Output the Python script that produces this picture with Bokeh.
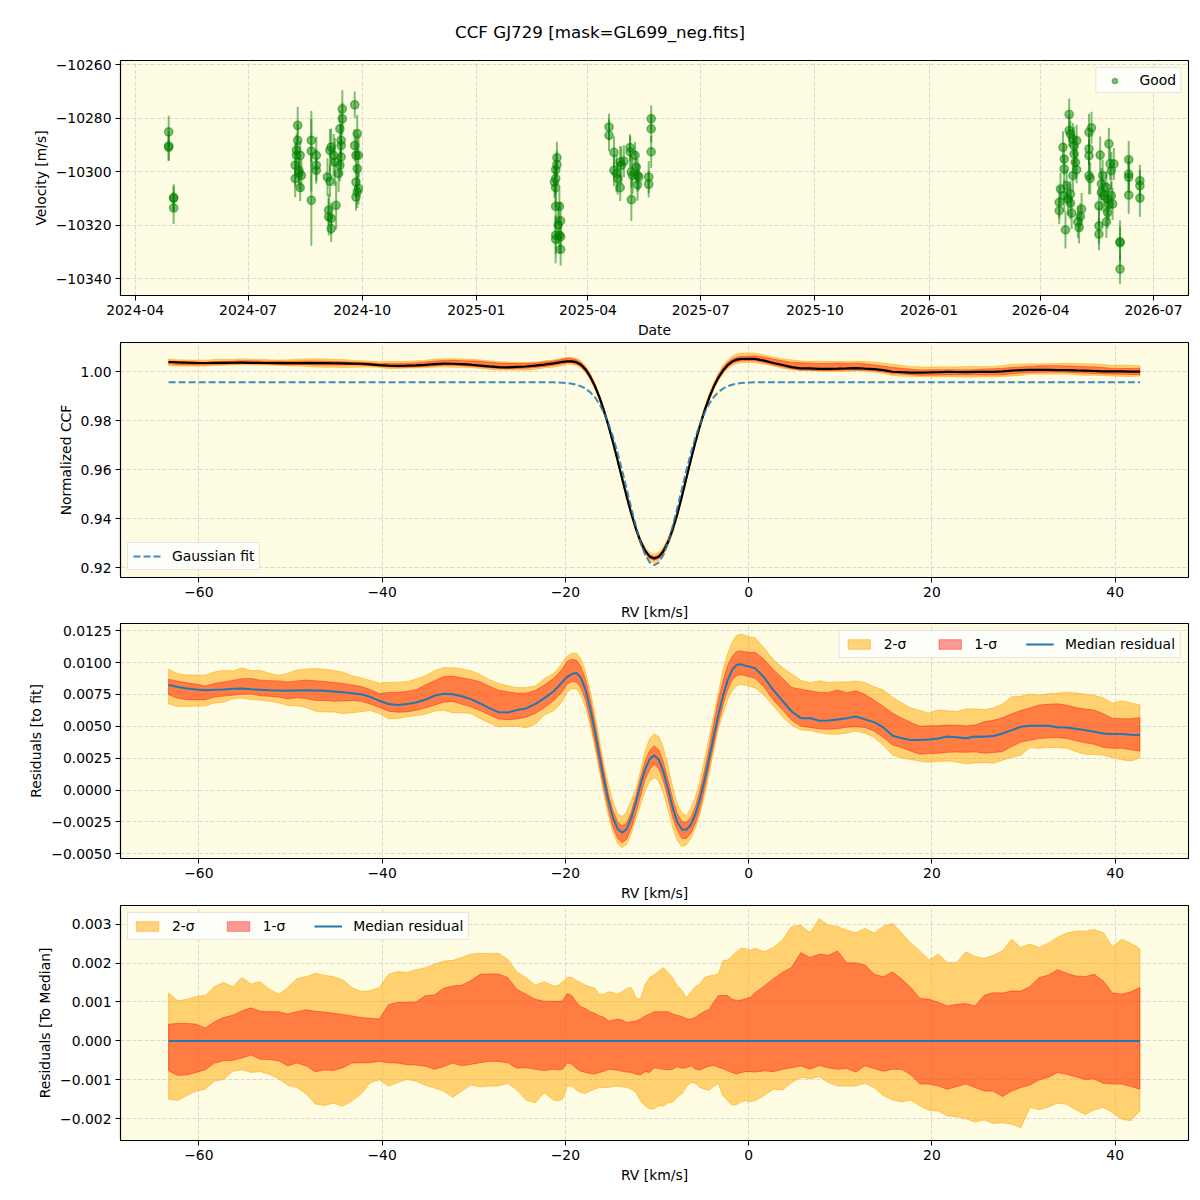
import numpy as np
import pandas as pd
from bokeh.plotting import figure
from bokeh.models import Range1d, FixedTicker, CustomJSTickFormatter, Div, ColumnDataSource
from bokeh.layouts import column
from bokeh.embed import file_html
from bokeh.resources import INLINE

# ---------------- RV time series ("Good" observations) ----------------
obs_date = [
    "2024-04-28", "2024-04-28", "2024-04-28", "2024-05-02", "2024-05-02", "2024-05-02",
    "2024-08-08", "2024-08-08", "2024-08-09", "2024-08-09", "2024-08-10", "2024-08-10",
    "2024-08-11", "2024-08-11", "2024-08-12", "2024-08-12", "2024-08-13",
    "2024-08-21", "2024-08-21", "2024-08-21", "2024-08-25", "2024-08-25", "2024-08-25",
    "2024-09-03", "2024-09-04", "2024-09-04", "2024-09-05", "2024-09-05", "2024-09-06",
    "2024-09-06", "2024-09-06", "2024-09-08", "2024-09-09", "2024-09-10",
    "2024-09-12", "2024-09-13", "2024-09-13", "2024-09-14", "2024-09-14", "2024-09-14",
    "2024-09-15", "2024-09-15",
    "2024-09-25", "2024-09-25", "2024-09-26", "2024-09-26", "2024-09-26", "2024-09-27",
    "2024-09-27", "2024-09-27", "2024-09-28", "2024-09-28",
    "2025-03-05", "2025-03-06", "2025-03-06", "2025-03-06", "2025-03-06", "2025-03-06",
    "2025-03-06", "2025-03-07", "2025-03-07", "2025-03-08", "2025-03-09", "2025-03-09",
    "2025-03-10", "2025-03-10", "2025-03-10",
    "2025-04-18", "2025-04-18", "2025-04-22", "2025-04-22", "2025-04-24", "2025-04-25",
    "2025-04-27", "2025-04-27", "2025-04-28", "2025-04-30", "2025-05-05", "2025-05-05",
    "2025-05-06", "2025-05-06", "2025-05-07", "2025-05-09", "2025-05-10", "2025-05-11",
    "2025-05-11", "2025-05-12", "2025-05-20", "2025-05-20", "2025-05-22", "2025-05-22",
    "2025-05-22",
    "2026-04-24", "2026-04-24", "2026-04-25", "2026-04-19", "2026-04-20", "2026-04-20",
    "2026-04-27", "2026-04-28", "2026-04-28", "2026-04-29", "2026-04-30", "2026-04-30",
    "2026-04-27", "2026-04-17", "2026-04-16", "2026-04-16", "2026-04-20", "2026-04-22",
    "2026-04-23", "2026-04-25", "2026-04-25", "2026-04-26", "2026-04-21", "2026-05-01",
    "2026-05-02", "2026-05-04", "2026-05-03", "2026-05-10", "2026-05-12", "2026-05-10",
    "2026-05-10", "2026-05-10", "2026-05-11", "2026-05-19", "2026-05-26", "2026-05-27",
    "2026-05-30", "2026-05-28", "2026-05-21", "2026-05-20", "2026-05-20", "2026-05-22",
    "2026-05-24", "2026-05-25", "2026-05-26", "2026-05-28", "2026-05-29", "2026-05-18",
    "2026-05-18", "2026-05-18", "2026-05-25", "2026-05-24", "2026-06-04", "2026-06-04",
    "2026-06-04", "2026-06-11", "2026-06-11", "2026-06-11", "2026-06-11", "2026-06-20",
    "2026-06-20", "2026-06-20",
]
obs_rv = [
    -10285.1, -10290.4, -10290.9, -10309.7, -10310.0, -10313.6,
    -10297.6, -10302.6, -10292.0, -10293.9, -10282.7, -10288.3,
    -10299.5, -10300.7, -10293.9, -10306.0, -10301.4,
    -10288.3, -10292.3, -10310.7, -10293.9, -10297.6, -10299.5,
    -10302.0, -10314.4, -10316.9, -10292.0, -10303.6, -10317.5,
    -10321.3, -10290.8, -10293.9, -10296.4, -10312.6,
    -10300.7, -10297.6, -10284.0, -10290.2, -10288.3, -10294.5,
    -10276.5, -10280.2,
    -10275.0, -10290.2, -10293.9, -10309.5, -10303.9, -10285.8,
    -10307.6, -10298.9, -10293.9, -10306.3,
    -10303.9, -10299.3, -10306.0, -10313.0, -10325.3, -10302.6,
    -10323.8, -10294.8, -10297.4, -10320.0, -10313.0, -10323.8,
    -10318.4, -10324.4, -10329.1,
    -10283.3, -10286.4, -10292.8, -10299.5, -10300.7, -10302.6,
    -10296.4, -10306.0, -10297.6, -10296.1, -10291.0, -10292.6,
    -10300.1, -10310.5, -10301.4, -10293.9, -10298.3, -10301.4,
    -10304.9, -10302.0, -10304.7, -10302.0, -10280.2, -10284.0,
    -10292.6,
    -10278.6, -10284.6, -10285.9, -10290.9, -10295.3, -10299.0,
    -10287.8, -10290.3, -10293.4, -10296.5, -10299.3, -10288.4,
    -10301.5, -10306.5, -10311.5, -10314.6, -10309.0, -10305.3,
    -10310.3, -10308.4, -10311.8, -10315.5, -10321.8, -10318.8,
    -10320.9, -10314.0, -10316.8, -10285.3, -10283.6, -10291.5,
    -10294.0, -10301.5, -10302.5, -10293.8, -10289.6, -10297.1,
    -10297.1, -10299.6, -10301.5, -10304.6, -10307.8, -10309.0,
    -10305.9, -10310.3, -10312.1, -10309.0, -10312.1, -10312.8,
    -10320.3, -10323.4, -10315.3, -10318.8, -10326.3, -10326.6,
    -10336.5, -10295.5, -10300.9, -10302.1, -10308.8, -10303.4,
    -10305.3, -10309.9,
]
obs_err = [
    6.0, 5.5, 5.0, 5.0, 4.5, 6.0,
    8.0, 7.0, 6.0, 5.0, 7.0, 6.0,
    5.0, 6.0, 5.5, 5.0, 6.0,
    8.0, 15.0, 17.0, 7.0, 6.0, 5.0,
    7.0, 6.0, 7.0, 8.0, 6.0, 6.0,
    5.0, 7.0, 8.0, 9.0, 9.0,
    7.0, 6.0, 7.0, 8.0, 6.0, 7.0,
    7.0, 6.0,
    5.0, 6.0, 7.0, 5.0, 6.0, 7.0,
    6.0, 8.0, 8.0, 6.0,
    6.0, 6.0, 7.0, 8.0, 9.0, 6.0,
    7.0, 6.0, 5.0, 7.0, 6.0, 7.0,
    7.0, 6.0, 6.0,
    5.0, 6.0, 6.0, 6.0, 7.0, 6.0,
    6.0, 5.0, 7.0, 6.0, 5.0, 6.0,
    6.0, 8.0, 7.0, 5.0, 6.0, 6.0,
    6.0, 5.0, 5.0, 6.0, 5.0, 5.0,
    6.0,
    6.0, 6.0, 5.0, 6.0, 6.0, 5.0,
    6.0, 7.0, 6.0, 6.0, 5.0, 6.0,
    6.0, 6.0, 6.0, 5.0, 6.0, 6.0,
    6.0, 5.0, 6.0, 6.0, 7.0, 6.0,
    6.0, 6.0, 5.0, 7.0, 6.0, 6.0,
    6.0, 7.0, 6.0, 7.0, 6.0, 6.0,
    6.0, 7.0, 6.0, 6.0, 7.0, 6.0,
    6.0, 6.0, 6.0, 5.0, 6.0, 7.0,
    7.0, 6.0, 6.0, 6.0, 8.0, 6.0,
    5.5, 7.0, 6.0, 6.0, 7.0, 6.0,
    6.0, 7.0,
]

# ---------------- CCF profile: RV grid (finer through the line core) ----------------
rv = np.concatenate([
    -63.3 + np.arange(42),          # -63.3 ... -22.3
    -21.3 + 0.5 * np.arange(44),    # -21.3 ... 0.2
    0.7 + np.arange(43),            # 0.7 ... 42.7
])

# median residual (CCF - fit), units of 1e-3
resid_median_e3 = [
    8.25, 8.09, 7.96, 7.88, 7.83, 7.86, 7.88, 7.94, 7.96, 7.90, 7.86, 7.83, 7.81, 7.78,
    7.81, 7.83, 7.81, 7.78, 7.73, 7.68, 7.60, 7.52, 7.31, 7.00, 6.74, 6.68, 6.74, 6.87,
    7.08, 7.39, 7.55, 7.52, 7.36, 7.13, 6.79, 6.42, 6.11, 6.08, 6.27, 6.40, 6.74, 7.21,
    7.73, 8.10, 8.50, 8.88, 9.10, 9.19, 8.80, 7.85, 6.42, 4.66, 2.76, 0.87, -0.82, -2.18,
    -3.05, -3.35, -3.05, -2.18, -0.95, 0.40, 1.61, 2.42, 2.72, 2.38, 1.44, 0.08, -1.36, -2.50,
    -3.08, -3.12, -2.72, -1.88, -0.66, 0.84, 2.53, 4.25, 5.92, 7.39, 8.60, 9.43, 9.83, 9.86,
    9.74, 9.66,
    9.56, 8.83, 7.83, 7.00, 6.16, 5.64, 5.64, 5.43, 5.46, 5.54, 5.64, 5.77, 5.54, 5.33,
    4.91, 4.26, 4.07, 3.92, 3.92, 3.97, 4.05, 4.20, 4.15, 4.07, 4.20, 4.18, 4.23, 4.44,
    4.70, 4.96, 5.04, 5.04, 5.04, 4.93, 4.91, 4.80, 4.70, 4.57, 4.44, 4.39, 4.39, 4.33, 4.31,
]
# percentile envelopes relative to the median residual, units of 1e-3
band_hi2_e3 = [
    1.23, 1.03, 1.07, 1.14, 1.17, 1.40, 1.50, 1.39, 1.63, 1.46, 1.52, 1.33, 1.20, 1.37,
    1.60, 1.65, 1.73, 1.69, 1.65, 1.57, 1.37, 1.27, 1.29, 1.37, 1.71, 1.78, 1.76, 1.83,
    1.88, 1.97, 2.05, 2.07, 2.14, 2.23, 2.25, 2.24, 2.25, 2.10, 1.77, 1.63, 1.43, 1.52,
    1.41, 1.43, 1.52, 1.63, 1.63, 1.55, 1.50, 1.43, 1.39, 1.36, 1.20, 1.20, 1.26, 1.24,
    1.20, 1.26, 1.35, 1.37, 1.11, 1.07, 1.45, 1.63, 1.70, 1.80, 1.88, 1.76, 1.63, 1.41,
    1.31, 1.11, 1.26, 1.39, 1.47, 1.63, 1.67, 1.69, 1.73, 2.06, 2.08, 2.19, 2.29, 2.38,
    2.37, 2.33,
    2.38, 2.29, 2.40, 2.60, 2.94, 2.97, 2.78, 3.14, 2.97, 2.94, 2.84, 2.78, 2.89, 2.77,
    2.94, 3.02, 2.77, 2.51, 2.31, 2.08, 2.23, 2.01, 2.01, 2.29, 2.17, 2.12, 2.20, 2.31,
    2.61, 2.40, 2.49, 2.40, 2.51, 2.66, 2.77, 2.82, 2.82, 2.86, 2.78, 2.42, 2.61, 2.51, 2.37,
]
band_hi1_e3 = [
    0.43, 0.45, 0.45, 0.43, 0.33, 0.49, 0.60, 0.66, 0.77, 0.85, 0.76, 0.75, 0.75, 0.69,
    0.75, 0.80, 0.76, 0.74, 0.71, 0.68, 0.64, 0.60, 0.58, 0.56, 0.93, 0.99, 0.99, 1.00,
    1.16, 1.18, 1.35, 1.41, 1.43, 1.55, 1.71, 1.72, 1.72, 1.63, 1.33, 1.20, 1.07, 1.02,
    1.02, 1.01, 1.03, 1.22, 1.16, 0.99, 0.88, 0.83, 0.75, 0.71, 0.64, 0.61, 0.51, 0.53,
    0.56, 0.54, 0.47, 0.49, 0.51, 0.56, 0.64, 0.69, 0.75, 0.75, 0.75, 0.75, 0.69, 0.66,
    0.63, 0.57, 0.56, 0.61, 0.69, 0.76, 0.81, 1.01, 1.16, 1.17, 1.16, 1.07, 1.04, 1.05,
    1.09, 1.12,
    1.24, 1.41, 1.60, 1.76, 1.89, 2.27, 2.14, 2.23, 2.20, 2.31, 2.00, 2.01, 1.95, 1.71,
    1.65, 1.77, 1.59, 1.37, 1.09, 1.07, 0.99, 0.90, 0.94, 0.96, 0.90, 1.17, 1.24, 1.23,
    1.28, 1.28, 1.40, 1.63, 1.69, 1.83, 1.74, 1.67, 1.65, 1.71, 1.54, 1.23, 1.20, 1.26, 1.37,
]
band_lo1_e3 = [
    -0.77, -0.89, -0.87, -0.81, -0.74, -0.57, -0.51, -0.50, -0.44, -0.36, -0.47, -0.48, -0.51, -0.64,
    -0.57, -0.64, -0.79, -0.75, -0.76, -0.69, -0.57, -0.56, -0.56, -0.52, -0.56, -0.57, -0.61, -0.62,
    -0.65, -0.73, -0.66, -0.57, -0.64, -0.60, -0.56, -0.52, -0.53, -0.56, -0.70, -0.69, -0.73, -0.76,
    -0.73, -0.74, -0.73, -0.56, -0.60, -0.71, -0.78, -0.81, -0.84, -0.85, -0.81, -0.78, -0.73, -0.74,
    -0.75, -0.78, -0.80, -0.81, -0.86, -0.87, -0.79, -0.81, -0.69, -0.71, -0.73, -0.74, -0.73, -0.66,
    -0.70, -0.69, -0.64, -0.73, -0.75, -0.69, -0.65, -0.63, -0.68, -0.71, -0.77, -0.81, -0.85, -0.81,
    -0.79, -0.79,
    -0.80, -0.77, -0.79, -0.73, -0.69, -0.64, -0.73, -0.63, -0.69, -0.73, -0.71, -0.80, -0.64, -0.71,
    -0.78, -0.73, -0.73, -0.87, -1.11, -1.11, -1.16, -1.24, -1.17, -1.11, -1.20, -1.29, -1.29, -1.43,
    -1.29, -1.20, -1.13, -1.00, -0.94, -0.81, -0.86, -0.92, -0.99, -0.98, -1.09, -1.11, -1.11, -1.17, -1.24,
]
band_lo2_e3 = [
    -1.50, -1.53, -1.40, -1.29, -1.24, -1.03, -0.99, -0.78, -0.74, -0.81, -0.79, -0.86, -0.97, -1.14,
    -1.20, -1.36, -1.62, -1.66, -1.60, -1.68, -1.54, -1.37, -1.07, -1.00, -1.16, -1.07, -0.99, -1.03,
    -1.14, -1.21, -1.29, -1.45, -1.29, -1.13, -1.18, -1.16, -1.16, -1.09, -1.26, -1.52, -1.59, -1.33,
    -1.52, -1.54, -1.50, -1.16, -1.16, -1.26, -1.33, -1.35, -1.29, -1.24, -1.20, -1.20, -1.20, -1.17,
    -1.16, -1.18, -1.20, -1.24, -1.33, -1.54, -1.67, -1.75, -1.74, -1.67, -1.67, -1.59, -1.57, -1.44,
    -1.37, -1.18, -1.07, -1.09, -1.20, -1.24, -1.27, -1.16, -1.11, -1.41, -1.54, -1.65, -1.64, -1.56,
    -1.54, -1.56,
    -1.54, -1.40, -1.24, -1.26, -1.07, -0.94, -0.97, -0.92, -1.07, -1.16, -1.16, -1.16, -1.09, -1.20,
    -1.41, -1.52, -1.57, -1.52, -1.67, -1.79, -1.80, -1.93, -1.95, -2.00, -2.08, -2.03, -2.12, -2.10,
    -2.14, -2.23, -1.71, -1.77, -1.70, -1.60, -1.63, -1.77, -1.89, -1.77, -1.71, -1.84, -2.01, -2.05, -1.80,
]

# Gaussian fit parameters of the mean CCF
fit_continuum = 0.9958
fit_depth = 0.0747
fit_center = -10.3
fit_sigma = 2.9

# ---------------- derived curves ----------------
med = np.array(resid_median_e3) * 1e-3
hi2 = np.array(band_hi2_e3) * 1e-3
hi1 = np.array(band_hi1_e3) * 1e-3
lo1 = np.array(band_lo1_e3) * 1e-3
lo2 = np.array(band_lo2_e3) * 1e-3
gauss = fit_continuum - fit_depth * np.exp(-0.5 * ((rv - fit_center) / fit_sigma) ** 2)
ccf_med = gauss + med

# ---------------- styling ----------------
BG = "#fefde3"
GRID = "#cfcfcf"
FONT = "DejaVu Sans"
FS = "13.9px"
C0 = "#1f77b4"
ORANGE = "#ffa500"
RED = "#ff0000"
MINUS = "\u2212"


def fmt(decimals):
    return CustomJSTickFormatter(
        code=f"return tick.toFixed({decimals}).replace('-', '{MINUS}');")


def make_fig(x_range, y_range, border_top, border_bottom, x_type="linear"):
    p = figure(x_axis_type=x_type, frame_width=1068, frame_height=235,
               min_border_left=120, min_border_right=12, min_border_top=border_top,
               min_border_bottom=border_bottom, x_range=x_range, y_range=y_range,
               toolbar_location=None, output_backend="svg")
    p.background_fill_color = BG
    p.border_fill_color = "white"
    p.outline_line_color = "black"
    p.outline_line_alpha = 1.0
    p.outline_line_width = 1.1
    for g in p.grid:
        g.grid_line_color = GRID
        g.grid_line_dash = "4 2"
        g.grid_line_width = 0.8
    for ax in p.axis:
        ax.axis_line_color = "black"
        ax.axis_line_width = 1.1
        ax.major_tick_out = 5
        ax.major_tick_in = 0
        ax.minor_tick_out = 0
        ax.minor_tick_in = 0
        ax.major_tick_line_color = "black"
        ax.major_label_standoff = 4
        ax.major_label_text_font = FONT
        ax.major_label_text_font_size = FS
        ax.major_label_text_color = "black"
        ax.axis_label_text_font = FONT
        ax.axis_label_text_font_size = FS
        ax.axis_label_text_font_style = "normal"
        ax.axis_label_text_color = "black"
        ax.axis_label_standoff = 4
    return p


def style_legend(p, location, orientation="vertical"):
    lg = p.legend[0]
    lg.location = location
    lg.orientation = orientation
    lg.margin = 7
    lg.padding = 5
    lg.spacing = 29
    lg.label_text_font = FONT
    lg.label_text_font_size = FS
    lg.label_text_color = "black"
    lg.label_standoff = 11
    lg.label_height = 14
    lg.glyph_width = 28
    lg.glyph_height = 12
    lg.border_line_color = "#cccccc"
    lg.border_line_width = 1
    lg.background_fill_color = "white"
    lg.background_fill_alpha = 0.8
    return lg


rv_ticks = [-60, -40, -20, 0, 20, 40]
rv_range = (-68.55, 48.0)

# ---------------- panel 1: velocity vs date ----------------
t0 = pd.Timestamp("2024-04-01")
date_lo = t0 + pd.Timedelta(days=-11.85)
date_hi = t0 + pd.Timedelta(days=849.2)
to_ms = lambda t: t.value / 1e6

dates = pd.to_datetime(obs_date)
vals = np.array(obs_rv)
errs = np.array(obs_err)
src = ColumnDataSource(dict(t=dates, v=vals, lo=vals - errs, hi=vals + errs))

p1 = make_fig(Range1d(to_ms(date_lo), to_ms(date_hi)), Range1d(-10346.36, -10258.39), 15, 46,
              x_type="datetime")
p1.segment(x0="t", y0="lo", x1="t", y1="hi", source=src, line_color="green",
           line_alpha=0.5, line_width=2)
p1.scatter("t", "v", source=src, size=8.3, fill_color="green", fill_alpha=0.5,
           line_color="green", line_alpha=0.5, line_width=1.4, legend_label="Good")
tick_dates = ["2024-04-01", "2024-07-01", "2024-10-01", "2025-01-01", "2025-04-01",
              "2025-07-01", "2025-10-01", "2026-01-01", "2026-04-01", "2026-07-01"]
p1.xaxis.ticker = FixedTicker(ticks=[to_ms(pd.Timestamp(d)) for d in tick_dates])
p1.xaxis.formatter = CustomJSTickFormatter(code="""
    const d = new Date(tick);
    const m = d.getUTCMonth() + 1;
    return d.getUTCFullYear() + "-" + (m < 10 ? "0" + m : "" + m);
""")
p1.yaxis.ticker = FixedTicker(ticks=[-10340, -10320, -10300, -10280, -10260])
p1.yaxis.formatter = fmt(0)
p1.xaxis.axis_label = "Date"
p1.yaxis.axis_label = "Velocity [m/s]"
lg1 = style_legend(p1, "top_right")
lg1.glyph_height = 13
lg1.padding = 4

# ---------------- panel 2: normalized CCF ----------------
def band_patch(p, lo, hi, color, alpha, label=None):
    xs = np.concatenate([rv, rv[::-1]])
    ys = np.concatenate([lo, hi[::-1]])
    kw = dict(fill_color=color, fill_alpha=alpha, line_color=color, line_alpha=alpha,
              line_width=1)
    if label:
        kw["legend_label"] = label
    return p.patch(xs, ys, **kw)


p2 = make_fig(Range1d(*rv_range), Range1d(0.91608, 1.0120), 1, 45)
band_patch(p2, ccf_med + lo2, ccf_med + hi2, ORANGE, 0.5)
band_patch(p2, ccf_med + lo1, ccf_med + hi1, RED, 0.4)
p2.line(rv, ccf_med, line_color="black", line_width=2.2)
p2.line(rv, gauss, line_color=C0, line_width=2, line_dash="7 3", line_alpha=0.85,
        legend_label="Gaussian fit")
p2.xaxis.ticker = FixedTicker(ticks=rv_ticks)
p2.xaxis.formatter = fmt(0)
p2.yaxis.ticker = FixedTicker(ticks=[0.92, 0.94, 0.96, 0.98, 1.00])
p2.yaxis.formatter = fmt(2)
p2.xaxis.axis_label = "RV [km/s]"
p2.yaxis.axis_label = "Normalized CCF"
style_legend(p2, "bottom_left")

# ---------------- panel 3: residuals to the fit ----------------
p3 = make_fig(Range1d(*rv_range), Range1d(-0.005369, 0.013063), 1, 46)
band_patch(p3, med + lo2, med + hi2, ORANGE, 0.5, "2-σ")
band_patch(p3, med + lo1, med + hi1, RED, 0.4, "1-σ")
p3.line(rv, med, line_color=C0, line_width=2, legend_label="Median residual")
p3.xaxis.ticker = FixedTicker(ticks=rv_ticks)
p3.xaxis.formatter = fmt(0)
p3.yaxis.ticker = FixedTicker(ticks=[-0.005, -0.0025, 0.0, 0.0025, 0.005, 0.0075, 0.01, 0.0125])
p3.yaxis.formatter = fmt(4)
p3.xaxis.axis_label = "RV [km/s]"
p3.yaxis.axis_label = "Residuals [to fit]"
style_legend(p3, "top_right", "horizontal")

# ---------------- panel 4: residuals to the median ----------------
p4 = make_fig(Range1d(*rv_range), Range1d(-0.002559, 0.003479), 1, 60)
band_patch(p4, lo2, hi2, ORANGE, 0.5, "2-σ")
band_patch(p4, lo1, hi1, RED, 0.4, "1-σ")
p4.line(rv, med - med, line_color=C0, line_width=2, legend_label="Median residual")
p4.xaxis.ticker = FixedTicker(ticks=rv_ticks)
p4.xaxis.formatter = fmt(0)
p4.yaxis.ticker = FixedTicker(ticks=[-0.002, -0.001, 0.0, 0.001, 0.002, 0.003])
p4.yaxis.formatter = fmt(3)
p4.xaxis.axis_label = "RV [km/s]"
p4.yaxis.axis_label = "Residuals [To Median]"
style_legend(p4, "top_left", "horizontal")

title = Div(text="CCF GJ729 [mask=GL699_neg.fits]", width=1200, height=45,
            margin=(0, 0, 0, 0),
            styles={"text-align": "center", "font-family": FONT, "font-size": "16.7px",
                    "line-height": "64px", "color": "black", "width": "1200px"})

layout = column(title, p1, p2, p3, p4, spacing=0)
open("out.html", "w").write(file_html(layout, INLINE, title="CCF GJ729"))
